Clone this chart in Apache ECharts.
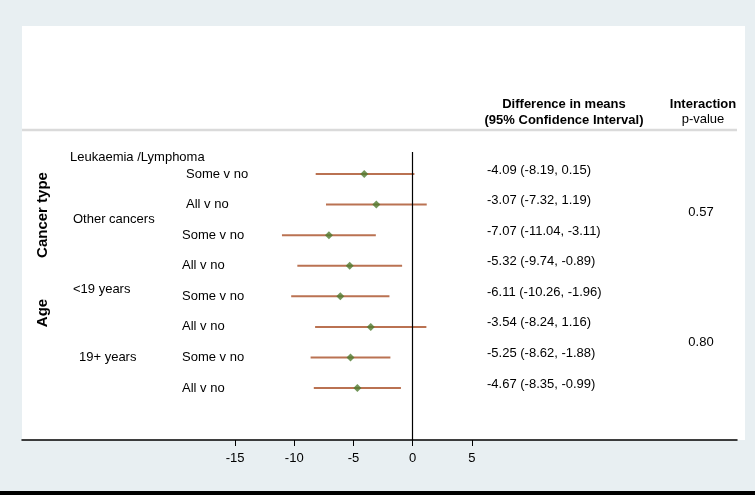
<!DOCTYPE html>
<html>
<head>
<meta charset="utf-8">
<script src="https://cdn.jsdelivr.net/npm/echarts@6/dist/echarts.min.js"></script>
<style>
  html, body { margin: 0; padding: 0; background: #e8eff2; }
  #forest { width: 755px; height: 495px; }
</style>
</head>
<body>
<div id="forest"></div>
<script>
// data
const factors = ['Cancer type', 'Age'];
const subgroups = ['Leukaemia /Lymphoma', 'Other cancers', '<19 years', '19+ years'];
const rowLabels = ['Some v no', 'All v no', 'Some v no', 'All v no', 'Some v no', 'All v no', 'Some v no', 'All v no'];
const estimates = [-4.09, -3.07, -7.07, -5.32, -6.11, -3.54, -5.25, -4.67];
const lower = [-8.19, -7.32, -11.04, -9.74, -10.26, -8.24, -8.62, -8.35];
const upper = [0.15, 1.19, -3.11, -0.89, -1.96, 1.16, -1.88, -0.99];
const pValues = ['0.57', '0.80'];
const xTicks = [-15, -10, -5, 0, 5];

const FONT = 'Liberation Sans, Arial, sans-serif';
let chart = echarts.init(document.getElementById('forest'));

const option = {
    backgroundColor: '#e8eff2',
    animation: false,
    grid: { left: 22, right: 18, top: 152, bottom: 55 },
    xAxis: {
        type: 'value',
        min: -33,
        max: 27.4,
        splitLine: { show: false },
        axisLine: { onZero: false, lineStyle: { color: '#000', width: 1.5 } },
        axisTick: { customValues: xTicks, length: 6, lineStyle: { color: '#000', width: 1 } },
        axisLabel: { customValues: xTicks, color: '#000', fontSize: 13, fontFamily: FONT, margin: 12 }
    },
    yAxis: {
        type: 'value',
        inverse: true,
        min: -0.72, // rows 0..7 sit between these
        max: 8.70,
        show: false
    },
    series: [
        {
            // confidence interval lines
            type: 'custom',
            name: 'ci',
            data: lower.map(function (lo, i) { return [lo, upper[i], i]; }),
            encode: { x: [0, 1], y: 2 },
            renderItem: function (params, api) {
                const a = api.coord([api.value(0), api.value(2)]);
                const b = api.coord([api.value(1), api.value(2)]);
                return {
                    type: 'line',
                    shape: { x1: a[0], y1: a[1], x2: b[0], y2: b[1] },
                    style: { stroke: '#ba7252', lineWidth: 2 }
                };
            },
            z: 2
        },
        {
            // point estimates
            type: 'scatter',
            name: 'mean',
            data: estimates.map(function (v, i) { return [v, i]; }),
            symbol: 'diamond',
            symbolSize: 8,
            itemStyle: { color: '#4e7a2e' },
            z: 3,
            markLine: {
                silent: true,
                symbol: 'none',
                label: { show: false },
                lineStyle: { color: '#000', width: 1.2, type: 'solid' },
                data: [{ xAxis: 0 }]
            }
        }
    ]
};
chart.setOption(option);

// text around the plot
function txt(text, x, y, opts) {
    opts = opts || {};
    return {
        type: 'text',
        x: x,
        y: y,
        rotation: opts.rotation || 0,
        style: {
            text: text,
            fill: '#000',
            font: (opts.bold ? 'bold ' : '') + (opts.size || 13) + 'px ' + FONT,
            align: opts.align || 'left',
            verticalAlign: 'middle'
        }
    };
}

const rowY = rowLabels.map(function (_, i) {
    return chart.convertToPixel({ gridIndex: 0 }, [0, i])[1];
});

let graphics = [
    { type: 'rect', z: -10, shape: { x: 22, y: 26, width: 723, height: 414 }, style: { fill: '#fff' } },
    { type: 'rect', shape: { x: 0, y: 491, width: 755, height: 4 }, style: { fill: '#000' } },
    { type: 'line', shape: { x1: 22, y1: 130, x2: 737, y2: 130 }, style: { stroke: '#dadada', lineWidth: 2.5 } },
    txt('Difference in means', 564, 104, { bold: true, align: 'center' }),
    txt('(95% Confidence Interval)', 564, 120, { bold: true, align: 'center' }),
    txt('Interaction', 703, 104, { bold: true, align: 'center' }),
    txt('p-value', 703, 119, { align: 'center' }),
    txt(factors[0], 43, 215, { bold: true, size: 15, align: 'center', rotation: Math.PI / 2 }),
    txt(factors[1], 43, 313, { bold: true, size: 15, align: 'center', rotation: Math.PI / 2 }),
    txt(subgroups[0], 70, 157),
    txt(subgroups[1], 73, 219),
    txt(subgroups[2], 73, 289),
    txt(subgroups[3], 79, 357),
    txt(pValues[0], 701, 212, { align: 'center' }),
    txt(pValues[1], 701, 342, { align: 'center' })
];

rowLabels.forEach(function (label, i) {
    graphics.push(txt(label, i < 2 ? 186 : 182, rowY[i]));
    const ci = estimates[i].toFixed(2) + ' (' + lower[i].toFixed(2) + ', ' + upper[i].toFixed(2) + ')';
    graphics.push(txt(ci, 487, rowY[i] - 4));
});

chart.setOption({ graphic: graphics });
</script>
</body>
</html>
